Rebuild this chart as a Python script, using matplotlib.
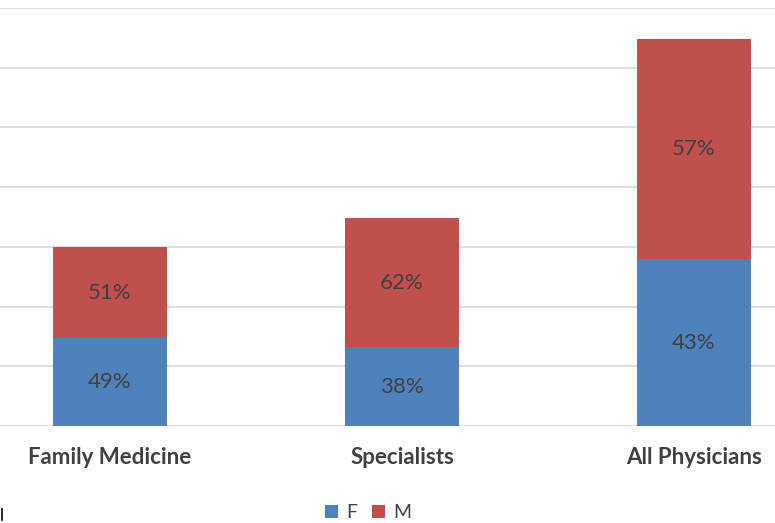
import matplotlib.pyplot as plt
import numpy as np
from matplotlib.lines import Line2D

categories = ['Family Medicine', 'Specialists', 'All Physicians']
female = [1.47, 1.32, 2.79]
male = [1.53, 2.16, 3.69]
female_labels = ['49%', '38%', '43%']
male_labels = ['51%', '62%', '57%']

blue = '#4F81BD'
red = '#C0504D'
text_color = '#404040'

plt.rcParams['font.family'] = ['Lato', 'DejaVu Sans']

fig = plt.figure(figsize=(7.75, 5.23), dpi=100)
ax = fig.add_axes([0, 97 / 523, 1, 418 / 523])

x = np.arange(len(categories))
width = 0.39
b1 = ax.bar(x, female, width, color=blue, label='F', zorder=2)
b2 = ax.bar(x, male, width, bottom=female, color=red, label='M', zorder=2)

# percentage labels in the middle of each segment
for bars, labels, base in [(b1, female_labels, [0] * 3), (b2, male_labels, female)]:
    for rect, lab, b in zip(bars, labels, base):
        ax.text(rect.get_x() + rect.get_width() / 2, b + rect.get_height() / 2, lab,
                ha='center', va='center', fontsize=16, color=text_color)

ax.set_xlim(-110 / 292, 665 / 292)
ax.set_ylim(0, 7)
ax.set_yticks(np.arange(0, 8, 1))
ax.yaxis.grid(True, color='#D9D9D9', linewidth=1.2, zorder=0)
ax.set_yticklabels([])
ax.tick_params(axis='both', length=0)
ax.set_xticks(x)
ax.set_xticklabels(categories, fontsize=16, fontweight='bold', color=text_color)
ax.tick_params(axis='x', pad=15)
for s in ax.spines.values():
    s.set_visible(False)
ax.axhline(0, color='#D9D9D9', linewidth=1.2, zorder=1)

fig.legend(handles=[b1, b2], labels=['F', 'M'], loc='center', bbox_to_anchor=(0.475, 10 / 523),
           ncol=2, frameon=False, fontsize=14, handlelength=0.65, handleheight=0.65,
           handletextpad=0.4, columnspacing=0.8, labelcolor=text_color)

fig.add_artist(Line2D([1.5 / 775, 1.5 / 775], [3 / 523, 14 / 523], color='black', linewidth=1.2))

fig.savefig('out.png', dpi=100)
